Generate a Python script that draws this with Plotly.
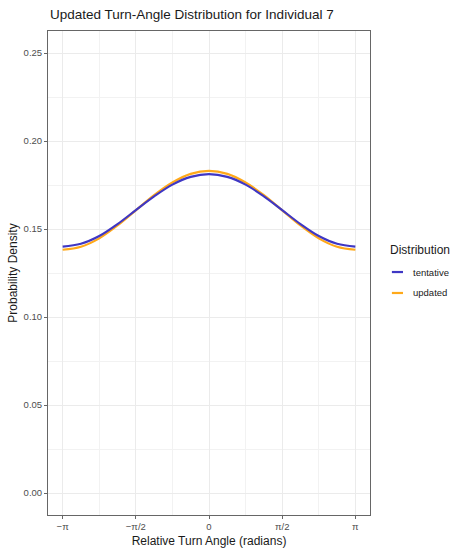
import numpy as np
import plotly.graph_objects as go

# Angles (radians) at steps of pi/8 from -pi to pi
angle_steps = list(range(-8, 9))
angles = [k * np.pi / 8 for k in angle_steps]

tentative = [0.1400, 0.1416, 0.1460, 0.1528, 0.1607, 0.1685, 0.1752, 0.1796, 0.1812,
             0.1796, 0.1752, 0.1685, 0.1607, 0.1528, 0.1460, 0.1416, 0.1400]
updated = [0.1382, 0.1399, 0.1447, 0.1520, 0.1606, 0.1692, 0.1764, 0.1813, 0.1830,
           0.1813, 0.1764, 0.1692, 0.1606, 0.1520, 0.1447, 0.1399, 0.1382]

x_tick_vals = [-np.pi, -np.pi / 2, 0, np.pi / 2, np.pi]
x_tick_text = ["\u2212\u03c0", "\u2212\u03c0/2", "0", "\u03c0/2", "\u03c0"]
y_tick_vals = [0.00, 0.05, 0.10, 0.15, 0.20, 0.25]
y_tick_text = ["0.00", "0.05", "0.10", "0.15", "0.20", "0.25"]

series_names = ["tentative", "updated"]
col_tent = "#3F37C4"
col_upd = "#FFA91A"
series_colors = [col_tent, col_upd]

FONT = "Liberation Sans, Arial, sans-serif"

fig = go.Figure()
fig.add_trace(go.Scatter(x=angles, y=updated, mode="lines", name="updated",
                         line=dict(color=col_upd, width=2.2, shape="spline"),
                         showlegend=False))
fig.add_trace(go.Scatter(x=angles, y=tentative, mode="lines", name="tentative",
                         line=dict(color=col_tent, width=2.2, shape="spline"),
                         showlegend=False))

xr = [-np.pi - 0.05 * 2 * np.pi, np.pi + 0.05 * 2 * np.pi]
yr = [-0.0125, 0.2625]

axis_common = dict(
    showline=True, linecolor="#666666", linewidth=1, mirror=True,
    showgrid=True, gridcolor="#EBEBEB", gridwidth=1,
    ticks="outside", ticklen=3, tickcolor="#666666", tickwidth=1,
    tickfont=dict(family=FONT, size=9.5, color="#4D4D4D"),
    zeroline=False,
)

# Title as annotation aligned with the panel's left edge
annotations = [dict(xref="paper", yref="paper", x=0.0, y=1.035,
                    xanchor="left", yanchor="middle", showarrow=False,
                    text="Updated Turn-Angle Distribution for Individual 7",
                    font=dict(family=FONT, size=13.5, color="#1A1A1A"))]

# Manual legend (ggplot-style short key lines)
legend_title_y = 0.5475
legend_rows_y = [0.502, 0.4587]
annotations.append(dict(xref="paper", yref="paper", x=1.0559, y=legend_title_y,
                        xanchor="left", yanchor="middle", showarrow=False,
                        text="Distribution", font=dict(family=FONT, size=12, color="#1A1A1A")))
shapes = []
for name, col, yy in zip(series_names, series_colors, legend_rows_y):
    shapes.append(dict(type="line", xref="paper", yref="paper",
                       x0=1.068, x1=1.1025, y0=yy, y1=yy,
                       line=dict(color=col, width=2.2)))
    annotations.append(dict(xref="paper", yref="paper", x=1.128, y=yy,
                            xanchor="left", yanchor="middle", showarrow=False,
                            text=name, font=dict(family=FONT, size=9.5, color="#1A1A1A")))

fig.update_layout(
    width=450, height=558,
    margin=dict(l=48, r=80, t=31, b=43, autoexpand=False),
    paper_bgcolor="white", plot_bgcolor="white",
    font=dict(family=FONT, color="#1A1A1A"),
    showlegend=False,
    xaxis=dict(range=xr, tickvals=x_tick_vals, ticktext=x_tick_text,
               title=dict(text="Relative Turn Angle (radians)", standoff=5,
                          font=dict(size=12, color="#1A1A1A")),
               minor=dict(tickvals=[-3 * np.pi / 4, -np.pi / 4, np.pi / 4, 3 * np.pi / 4],
                          showgrid=True, gridcolor="#F2F2F2", gridwidth=1, ticks=""),
               **axis_common),
    yaxis=dict(range=yr, tickvals=y_tick_vals, ticktext=y_tick_text,
               title=dict(text="Probability Density", standoff=3,
                          font=dict(size=12, color="#1A1A1A")),
               minor=dict(tickvals=[0.025, 0.075, 0.125, 0.175, 0.225],
                          showgrid=True, gridcolor="#F2F2F2", gridwidth=1, ticks=""),
               **axis_common),
    annotations=annotations,
    shapes=shapes,
)

fig.write_html("out.html")
